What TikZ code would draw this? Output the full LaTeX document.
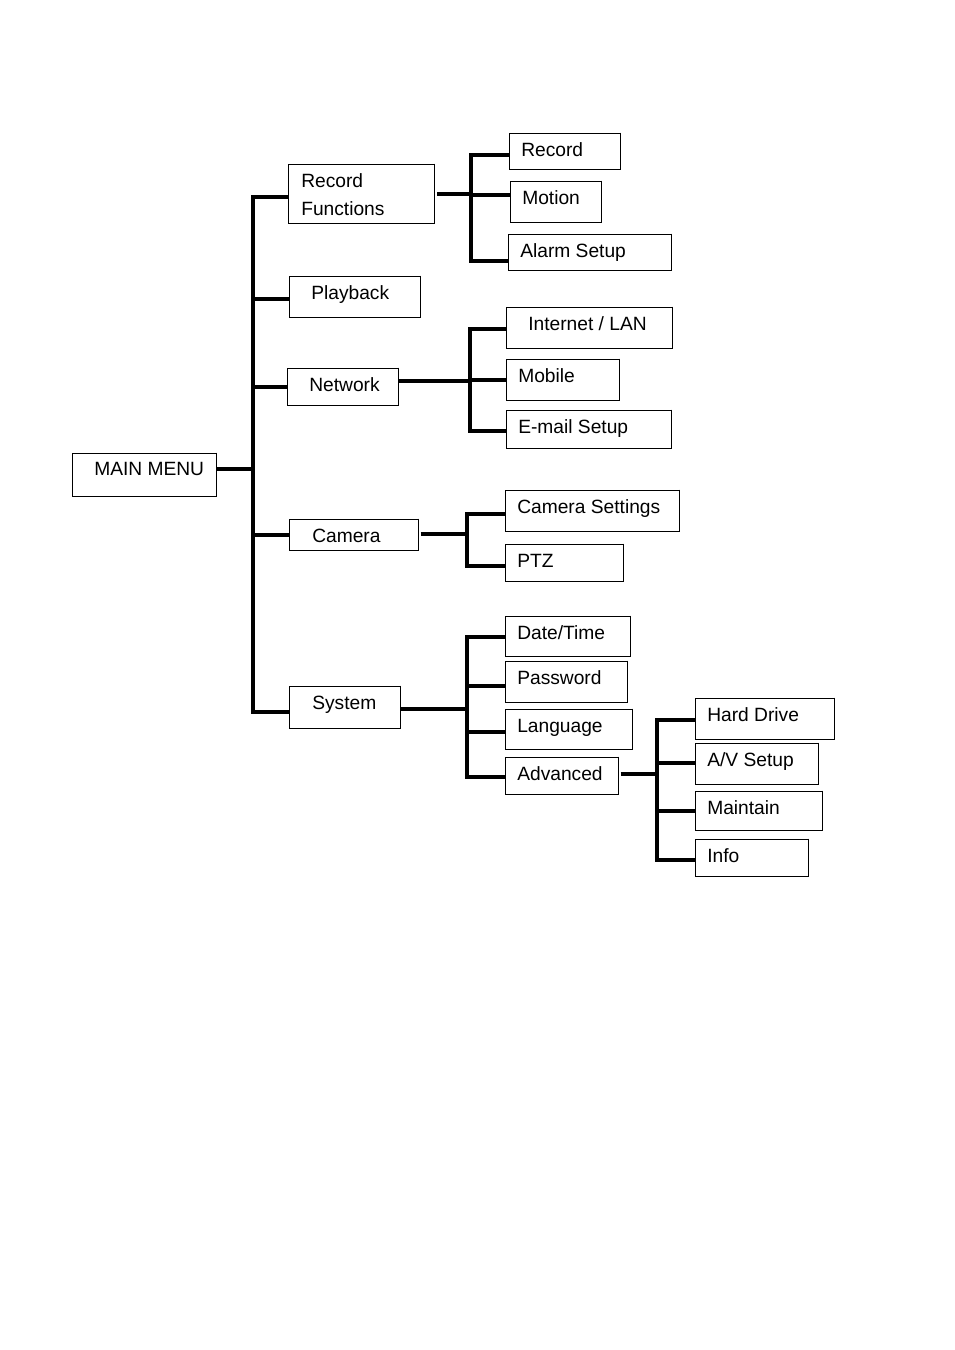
\documentclass[tikz,border=0pt]{standalone}
\usepackage{fontspec}
\setmainfont{Liberation Sans}
\usetikzlibrary{fit}

\begin{document}
\begin{tikzpicture}[x=0.75pt, y=-0.75pt,
    box/.style={draw, line width=0.75pt, inner sep=0pt,
      append after command={(\tikzlastnode.north east) edge[line width=1.3pt] (\tikzlastnode.south east)
        (\tikzlastnode.south east) edge[line width=1.3pt] (\tikzlastnode.south west)}},
    lbl/.style={anchor=base west, inner sep=0pt, font=\fontsize{14.4}{21}\selectfont},
    conn/.style={line width=2.8pt}]
        \useasboundingbox (0,0) rectangle (954,1350);

        % Main menu
        \node[box, fit={(72,453) (216,496)}] (main) {};
        \node[lbl] (main-t) at (94,475) {MAIN MENU};

        % First level
        \node[box, fit={(288,164) (434,223)}] (recf) {};
        \node[lbl, anchor=north west, align=left] (recf-t) at (301,173) {Record\\Functions};
        \node[box, fit={(289,276) (420,317)}] (play) {};
        \node[lbl] (play-t) at (311,299) {Playback};
        \node[box, fit={(287,368) (398,405)}] (net) {};
        \node[lbl] (net-t) at (309,391) {Network};
        \node[box, fit={(289,519) (418,550)}] (cam) {};
        \node[lbl] (cam-t) at (312,542) {Camera};
        \node[box, fit={(289,686) (400,728)}] (sys) {};
        \node[lbl] (sys-t) at (312,709) {System};

        % Record functions
        \node[box, fit={(509,133) (620,169)}] (rec) {};
        \node[lbl] (rec-t) at (521,156) {Record};
        \node[box, fit={(510,181) (601,222)}] (mot) {};
        \node[lbl] (mot-t) at (522,204) {Motion};
        \node[box, fit={(508,234) (671,270)}] (alarm) {};
        \node[lbl] (alarm-t) at (520,257) {Alarm Setup};

        % Network
        \node[box, fit={(506,307) (672,348)}] (inet) {};
        \node[lbl] (inet-t) at (528,330) {Internet / LAN};
        \node[box, fit={(506,359) (619,400)}] (mob) {};
        \node[lbl] (mob-t) at (518,382) {Mobile};
        \node[box, fit={(506,410) (671,448)}] (email) {};
        \node[lbl] (email-t) at (518,433) {E-mail Setup};

        % Camera
        \node[box, fit={(505,490) (679,531)}] (camset) {};
        \node[lbl] (camset-t) at (517,513) {Camera Settings};
        \node[box, fit={(505,544) (623,581)}] (ptz) {};
        \node[lbl] (ptz-t) at (517,567) {PTZ};

        % System
        \node[box, fit={(505,616) (630,656)}] (date) {};
        \node[lbl] (date-t) at (517,639) {Date/Time};
        \node[box, fit={(505,661) (627,702)}] (pass) {};
        \node[lbl] (pass-t) at (517,684) {Password};
        \node[box, fit={(505,709) (632,749)}] (lang) {};
        \node[lbl] (lang-t) at (517,732) {Language};
        \node[box, fit={(505,757) (618,794)}] (adv) {};
        \node[lbl] (adv-t) at (517,780) {Advanced};

        % Advanced
        \node[box, fit={(695,698) (834,739)}] (hd) {};
        \node[lbl] (hd-t) at (707,721) {Hard Drive};
        \node[box, fit={(695,743) (818,784)}] (av) {};
        \node[lbl] (av-t) at (707,766) {A/V Setup};
        \node[box, fit={(695,791) (822,830)}] (maint) {};
        \node[lbl] (maint-t) at (707,814) {Maintain};
        \node[box, fit={(695,839) (808,876)}] (info) {};
        \node[lbl] (info-t) at (707,862) {Info};

        % Main bus
        \coordinate (mbus) at (253,469);
        \draw[conn] ([yshift=4.125pt]main.east) -- (mbus);
        \draw[conn] ([yshift=-2.625pt]recf.west) -| (mbus);
        \draw[conn] ([yshift=-3.75pt]sys.west) -| (mbus);
        \draw[conn] ([yshift=-1.875pt]play.west) -| (mbus);
        \draw[conn] ([yshift=-0.375pt]net.west) -| (mbus);
        \draw[conn] ([yshift=-0.375pt]cam.west) -| (mbus);

        % Record functions bus
        \coordinate (rbus) at (471,194);
        \draw[conn] ([xshift=2pt, yshift=-0.375pt]recf.east) -- (rbus);
        \draw[conn] ([yshift=-3pt]rec.west) -| (rbus);
        \draw[conn] ([yshift=4.875pt]mot.west) -| (rbus);
        \draw[conn] ([yshift=-6.75pt]alarm.west) -| (rbus);

        % Network bus
        \coordinate (nbus) at (470,381);
        \draw[conn] ([yshift=4.125pt]net.east) -- (nbus);
        \draw[conn] ([yshift=-1.125pt]inet.west) -| (nbus);
        \draw[conn] ([yshift=-0.375pt]mob.west) -| (nbus);
        \draw[conn] ([yshift=-1.5pt]email.west) -| (nbus);

        % Camera bus
        \coordinate (cbus) at (467,534);
        \draw[conn] ([xshift=1.5pt, yshift=0.375pt]cam.east) -- (cbus);
        \draw[conn] ([yshift=-2.625pt]camset.west) -| (cbus);
        \draw[conn] ([yshift=-2.625pt]ptz.west) -| (cbus);

        % System bus
        \coordinate (sbus) at (467,709);
        \draw[conn] ([yshift=-1.5pt]sys.east) -- (sbus);
        \draw[conn] ([yshift=-0.75pt]date.west) -| (sbus);
        \draw[conn] ([yshift=-3.375pt]pass.west) -| (sbus);
        \draw[conn] ([yshift=-2.25pt]lang.west) -| (sbus);
        \draw[conn] ([yshift=-1.125pt]adv.west) -| (sbus);

        % Advanced bus
        \coordinate (abus) at (657,774);
        \draw[conn] ([xshift=1.5pt, yshift=1.125pt]adv.east) -- (abus);
        \draw[conn] ([yshift=-1.125pt]hd.west) -| (abus);
        \draw[conn] ([yshift=0.375pt]av.west) -| (abus);
        \draw[conn] ([yshift=-0.375pt]maint.west) -| (abus);
        \draw[conn] ([yshift=-1.875pt]info.west) -| (abus);
    \end{tikzpicture}
\end{document}
